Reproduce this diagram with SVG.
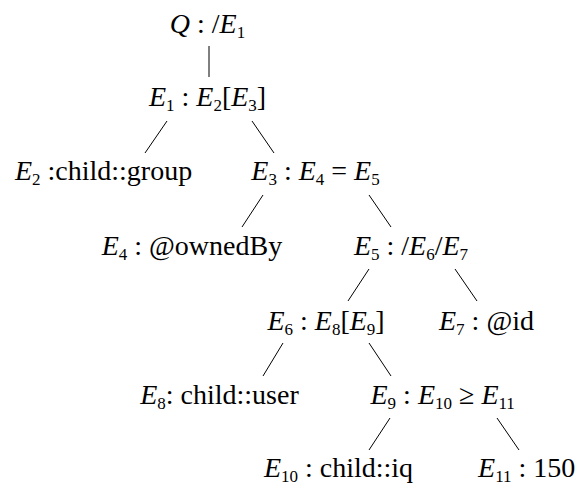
<svg xmlns="http://www.w3.org/2000/svg" width="582" height="485" viewBox="0 0 582 485">
<style>
.t{font-family:'Liberation Serif',serif;fill:#000}
.i{font-style:italic}
#edges line{stroke:#000;stroke-width:1}
</style>
<rect width="582" height="485" fill="#fff"/>
<g id="edges">
<line x1="209" y1="46" x2="209" y2="77"/>
<line x1="167" y1="121" x2="145" y2="153"/>
<line x1="252" y1="121" x2="274" y2="153"/>
<line x1="263" y1="195" x2="242" y2="227"/>
<line x1="369" y1="195" x2="391" y2="227"/>
<line x1="369" y1="269" x2="348" y2="301"/>
<line x1="455" y1="269" x2="477" y2="301"/>
<line x1="283" y1="343" x2="263" y2="376"/>
<line x1="369" y1="343" x2="391" y2="376"/>
<line x1="390" y1="418" x2="369" y2="450"/>
<line x1="497" y1="418" x2="519" y2="450"/>
</g>
<g id="Q"><text class="t" font-family="Liberation Serif" font-size="28" x="169.8" y="33"><tspan font-style="italic">Q</tspan> : /<tspan font-style="italic">E</tspan><tspan font-size="17" dy="5">1</tspan></text></g>
<g id="E1"><text class="t" font-family="Liberation Serif" font-size="28" x="148.9" y="106"><tspan font-style="italic">E</tspan><tspan font-size="17" dy="5">1</tspan><tspan dy="-5"> : </tspan><tspan font-style="italic">E</tspan><tspan font-size="17" dy="5">2</tspan><tspan dy="-5">[</tspan><tspan font-style="italic">E</tspan><tspan font-size="17" dy="5">3</tspan><tspan dy="-5">]</tspan></text></g>
<g id="E2"><text class="t" font-family="Liberation Serif" font-size="28" x="14.9" y="180"><tspan font-style="italic">E</tspan><tspan font-size="17" dy="5">2</tspan><tspan dy="-5"> :child::group</tspan></text></g>
<g id="E3"><text class="t" font-family="Liberation Serif" font-size="28" x="251.3" y="180"><tspan font-style="italic">E</tspan><tspan font-size="17" dy="5">3</tspan><tspan dy="-5"> : </tspan><tspan font-style="italic">E</tspan><tspan font-size="17" dy="5">4</tspan><tspan dy="-5"> = </tspan><tspan font-style="italic">E</tspan><tspan font-size="17" dy="5">5</tspan></text></g>
<g id="E4"><text class="t" font-family="Liberation Serif" font-size="28" x="101.7" y="255"><tspan font-style="italic">E</tspan><tspan font-size="17" dy="5">4</tspan><tspan dy="-5"> : @ownedBy</tspan></text></g>
<g id="E5"><text class="t" font-family="Liberation Serif" font-size="28" x="353.9" y="255"><tspan font-style="italic">E</tspan><tspan font-size="17" dy="5">5</tspan><tspan dy="-5"> : /</tspan><tspan font-style="italic">E</tspan><tspan font-size="17" dy="5">6</tspan><tspan dy="-5">/</tspan><tspan font-style="italic">E</tspan><tspan font-size="17" dy="5">7</tspan></text></g>
<g id="E6"><text class="t" font-family="Liberation Serif" font-size="28" x="267.4" y="330"><tspan font-style="italic">E</tspan><tspan font-size="17" dy="5">6</tspan><tspan dy="-5"> : </tspan><tspan font-style="italic">E</tspan><tspan font-size="17" dy="5">8</tspan><tspan dy="-5">[</tspan><tspan font-style="italic">E</tspan><tspan font-size="17" dy="5">9</tspan><tspan dy="-5">]</tspan></text></g>
<g id="E7"><text class="t" font-family="Liberation Serif" font-size="28" x="439" y="330"><tspan font-style="italic">E</tspan><tspan font-size="17" dy="5">7</tspan><tspan dy="-5"> : @id</tspan></text></g>
<g id="E8"><text class="t" font-family="Liberation Serif" font-size="28" x="140.2" y="404"><tspan font-style="italic">E</tspan><tspan font-size="17" dy="5">8</tspan><tspan dy="-5">: child::user</tspan></text></g>
<g id="E9"><text class="t" font-family="Liberation Serif" font-size="28" x="370.5" y="404"><tspan font-style="italic">E</tspan><tspan font-size="17" dy="5">9</tspan><tspan dy="-5"> : </tspan><tspan font-style="italic">E</tspan><tspan font-size="17" dy="5">10</tspan><tspan dy="-5"> ≥ </tspan><tspan font-style="italic">E</tspan><tspan font-size="17" dy="5">11</tspan></text></g>
<g id="E10"><text class="t" font-family="Liberation Serif" font-size="28" x="263.9" y="477"><tspan font-style="italic">E</tspan><tspan font-size="17" dy="5">10</tspan><tspan dy="-5"> : child::iq</tspan></text></g>
<g id="E11"><text class="t" font-family="Liberation Serif" font-size="28" x="478.1" y="477"><tspan font-style="italic">E</tspan><tspan font-size="17" dy="5">11</tspan><tspan dy="-5"> : 150</tspan></text></g>
</svg>
